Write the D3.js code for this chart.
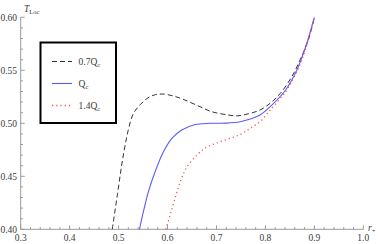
<!DOCTYPE html>
<html>
<head>
<meta charset="utf-8">
<script src="https://cdn.jsdelivr.net/npm/d3@7"></script>
<style>
  body { margin: 0; background: #fff; }
  text { font-family: "Liberation Serif", "DejaVu Serif", serif; }
</style>
</head>
<body>
<div id="graph"></div>
<script>
// curve samples (r+, T_Loc)
const rLow = [0.487, 0.498, 0.508, 0.520, 0.530, 0.545, 0.560, 0.575, 0.591, 0.610, 0.630, 0.660, 0.690, 0.7245, 0.742, 0.765, 0.789, 0.810, 0.830, 0.854, 0.871, 0.888, 0.900]
const tLow = [0.400, 0.434, 0.4654, 0.494, 0.509, 0.518, 0.524, 0.527, 0.5276, 0.526, 0.523, 0.517, 0.511, 0.5078, 0.507, 0.509, 0.5125, 0.519, 0.528, 0.544, 0.560, 0.579, 0.600]

const rCrit = [0.5426, 0.5507, 0.561, 0.5746, 0.5916, 0.609, 0.629, 0.655, 0.687, 0.721, 0.7485, 0.769, 0.789, 0.8098, 0.8413, 0.864, 0.882, 0.900]
const tCrit = [0.400, 0.4166, 0.4355, 0.4543, 0.4732, 0.4858, 0.4937, 0.4987, 0.500, 0.5002, 0.5015, 0.504, 0.5078, 0.5157, 0.5314, 0.550, 0.572, 0.600]

const rHigh = [0.5965, 0.6053, 0.6155, 0.626, 0.640, 0.660, 0.6735, 0.687, 0.7075, 0.7485, 0.769, 0.789, 0.8098, 0.8413, 0.864, 0.882, 0.900]
const tHigh = [0.400, 0.4135, 0.4292, 0.445, 0.459, 0.470, 0.4755, 0.479, 0.4826, 0.4895, 0.4953, 0.5015, 0.5125, 0.5298, 0.5484, 0.570, 0.600]

const legendNames = ['0.7', '', '1.4']
const xTicks = [0.3, 0.4, 0.5, 0.6, 0.7, 0.8, 0.9, 1.0]
const yTicks = [0.40, 0.45, 0.50, 0.55, 0.60]

const W = 382, H = 244
const plotL = 20.7, plotR = 363.3, plotT = 17.3, plotB = 229.3

const svg = d3.select('#graph').append('svg')
  .attr('width', W)
  .attr('height', H)

const x = d3.scaleLinear().domain([0.3, 1.0]).range([plotL, plotR])
const y = d3.scaleLinear().domain([0.40, 0.60]).range([plotB, plotT])

const axisColor = '#9a9a9a'
const labelColor = '#3a3a3a'

// x axis, ticks point up
svg.append('line')
  .attr('x1', plotL).attr('x2', plotR)
  .attr('y1', plotB).attr('y2', plotB)
  .attr('stroke', axisColor)

d3.range(0.30, 1.001, 0.02).forEach(v => {
  const major = Math.abs(v * 10 - Math.round(v * 10)) < 1e-6
  svg.append('line')
    .attr('x1', x(v)).attr('x2', x(v))
    .attr('y1', plotB).attr('y2', plotB - (major ? 4 : 2.2))
    .attr('stroke', axisColor)
})

svg.selectAll('.xlab')
  .data(xTicks)
  .enter().append('text')
  .attr('x', d => x(d))
  .attr('y', 241)
  .attr('text-anchor', 'middle')
  .attr('font-size', '9.5px')
  .attr('fill', labelColor)
  .text(d => d3.format('.1f')(d))

// y axis, ticks point right
svg.append('line')
  .attr('x1', plotL).attr('x2', plotL)
  .attr('y1', plotT).attr('y2', plotB)
  .attr('stroke', axisColor)

d3.range(0.40, 0.6001, 0.01).forEach(v => {
  const major = Math.abs(v * 20 - Math.round(v * 20)) < 1e-6
  svg.append('line')
    .attr('x1', plotL).attr('x2', plotL + (major ? 4 : 2.2))
    .attr('y1', y(v)).attr('y2', y(v))
    .attr('stroke', axisColor)
})

svg.selectAll('.ylab')
  .data(yTicks)
  .enter().append('text')
  .attr('x', 17)
  .attr('y', d => y(d) + 3.2)
  .attr('text-anchor', 'end')
  .attr('font-size', '9.5px')
  .attr('fill', labelColor)
  .text(d => d3.format('.2f')(d))

// axis labels
const tl = svg.append('text')
  .attr('x', 24)
  .attr('y', 12)
  .attr('font-size', '9.5px')
  .attr('fill', labelColor)
tl.append('tspan').attr('font-style', 'italic').text('T')
tl.append('tspan').attr('font-size', '6.5px').attr('dy', 2).text('Loc')

const rl = svg.append('text')
  .attr('x', 368)
  .attr('y', 231)
  .attr('font-size', '9.5px')
  .attr('fill', labelColor)
rl.append('tspan').attr('font-style', 'italic').text('r')
rl.append('tspan').attr('font-size', '6.5px').attr('dy', 2).text('+')

// curves
const curve = d3.line()
  .x(d => x(d[0]))
  .y(d => y(d[1]))
  .curve(d3.curveCatmullRom.alpha(0.5))

const series = [
  {r: rLow, t: tLow, color: '#333', dash: '5,3', w: 1},
  {r: rCrit, t: tCrit, color: '#5a5aff', dash: null, w: 1.1},
  {r: rHigh, t: tHigh, color: '#ff5050', dash: '1.2,3', w: 1.3}
]

series.forEach(s => {
  svg.append('path')
    .datum(d3.zip(s.r, s.t))
    .attr('d', curve)
    .attr('fill', 'none')
    .attr('stroke', s.color)
    .attr('stroke-width', s.w)
    .attr('stroke-dasharray', s.dash)
})

// legend
svg.append('rect')
  .attr('x', 40.5).attr('y', 42.5)
  .attr('width', 75.5).attr('height', 80.5)
  .attr('fill', '#fff')
  .attr('stroke', '#000')
  .attr('stroke-width', 2)

series.forEach((s, i) => {
  const ly = 61.5 + i * 22
  svg.append('line')
    .attr('x1', 52).attr('x2', 72)
    .attr('y1', ly).attr('y2', ly)
    .attr('stroke', s.color)
    .attr('stroke-width', s.w)
    .attr('stroke-dasharray', s.dash)
  const t = svg.append('text')
    .attr('x', 78.5)
    .attr('y', ly + 3.5)
    .attr('font-size', '9.5px')
    .attr('fill', labelColor)
  t.append('tspan').text(legendNames[i] + 'Q')
  t.append('tspan').attr('font-size', '6.5px').attr('dy', 2).text('c')
})
</script>
</body>
</html>
